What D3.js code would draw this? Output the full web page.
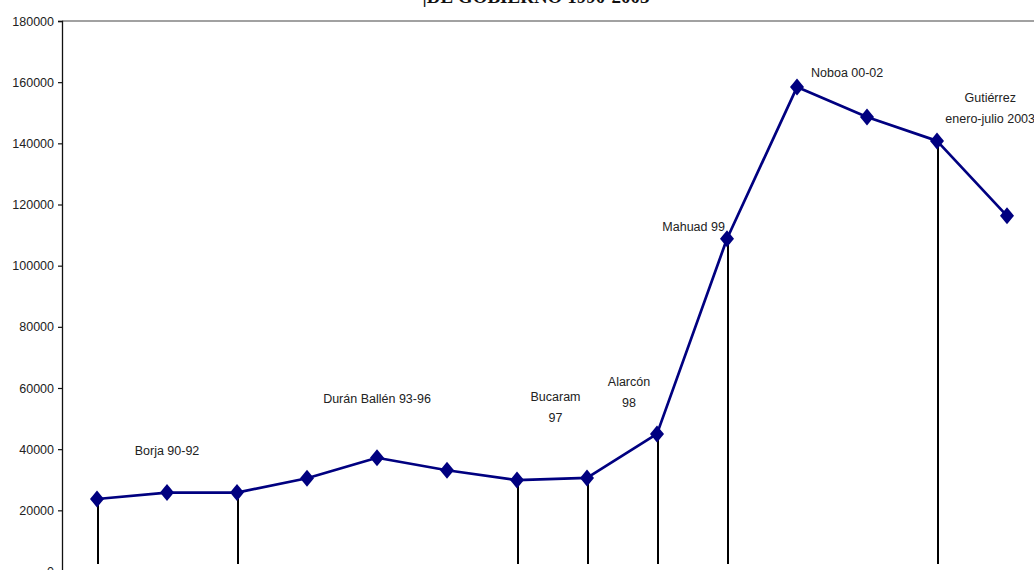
<!DOCTYPE html>
<html>
<head>
<meta charset="utf-8">
<script src="https://cdn.jsdelivr.net/npm/d3@7"></script>
<style>
  html, body { margin: 0; padding: 0; background: #fff; overflow: hidden; }
  svg { display: block; }
  .tick text { font-family: "Liberation Sans", Arial, sans-serif; font-size: 12.5px; fill: #222; }
  .lbl { font-family: "Liberation Sans", Arial, sans-serif; font-size: 12.5px; fill: #222; }
</style>
</head>
<body>
<svg id="chart" width="1034" height="570"></svg>
<script>
// yearly values 1990-2003
const years = [1990, 1991, 1992, 1993, 1994, 1995, 1996, 1997, 1998, 1999, 2000, 2001, 2002, 2003];
const values = [23700, 25800, 25800, 30500, 37200, 33100, 29900, 30600, 45000, 108800, 158400, 148600, 140800, 116300];
const yTicks = [0, 20000, 40000, 60000, 80000, 100000, 120000, 140000, 160000, 180000];
// years where a government period is separated by a vertical line
const dropYears = [1990, 1992, 1996, 1997, 1998, 1999, 2002];
const govLabels = [
    {year: 1991, value: 38000, lines: ['Borja 90-92'], anchor: 'middle'},
    {year: 1994, value: 55000, lines: ['Durán Ballén 93-96'], anchor: 'middle'},
    {year: 1996.55, value: 55700, lines: ['Bucaram', '97'], anchor: 'middle'},
    {year: 1997.6, value: 60500, lines: ['Alarcón', '98'], anchor: 'middle'},
    {year: 1998.97, value: 111400, lines: ['Mahuad 99'], anchor: 'end'},
    {year: 2000.2, value: 161700, lines: ['Noboa 00-02'], anchor: 'start'},
    {year: 2002.76, value: 153600, lines: ['Gutiérrez', 'enero-julio 2003'], anchor: 'middle'}
];

const svg = d3.select('#chart');
const x = d3.scaleLinear().domain([1990, 2003]).range([97, 1007]);
const y = d3.scaleLinear().domain([0, 180000]).range([571.5, 21]);
const axisX = 62;

// title, mostly cut off at the top of the picture
svg.append('text')
    .attr('x', 536).attr('y', 3)
    .attr('text-anchor', 'middle')
    .style('font-family', '"Liberation Serif", "Times New Roman", serif')
    .style('font-weight', 'bold')
    .style('font-size', '19px')
    .attr('fill', '#111')
    .text('|DE GOBIERNO 1990-2003');

// top frame line
svg.append('line')
    .attr('x1', axisX).attr('x2', 1034)
    .attr('y1', y(180000)).attr('y2', y(180000))
    .attr('stroke', '#444').attr('stroke-width', 1.2);

// y axis
const yAxis = svg.append('g')
    .attr('transform', `translate(${axisX},0)`)
    .call(d3.axisLeft(y).tickValues(yTicks).tickFormat(d3.format('d')).tickSize(4).tickPadding(4));
yAxis.select('.domain').attr('stroke', '#111').attr('stroke-width', 1.3);
yAxis.selectAll('.tick line').attr('stroke', '#111').attr('stroke-width', 1.2);

// vertical separators
svg.selectAll('.drop').data(dropYears).enter().append('line')
    .attr('class', 'drop')
    .attr('x1', d => x(d) + 1).attr('x2', d => x(d) + 1)
    .attr('y1', d => y(values[years.indexOf(d)]))
    .attr('y2', 564)
    .attr('stroke', '#000').attr('stroke-width', 2);

// series line
const line = d3.line().x((d, i) => x(years[i])).y(d => y(d));
svg.append('path')
    .datum(values)
    .attr('d', line)
    .attr('fill', 'none')
    .attr('stroke', '#000080')
    .attr('stroke-width', 2.7)
    .attr('stroke-linejoin', 'round');

// diamond markers
svg.selectAll('.pt').data(values).enter().append('path')
    .attr('class', 'pt')
    .attr('transform', (d, i) => `translate(${x(years[i])},${y(d)})`)
    .attr('d', 'M0,-8.5L7,0L0,8.5L-7,0Z')
    .attr('fill', '#000080');

// period labels
const lbl = svg.selectAll('.lbl').data(govLabels).enter().append('text')
    .attr('class', 'lbl')
    .attr('text-anchor', d => d.anchor)
    .attr('x', d => x(d.year))
    .attr('y', d => y(d.value));
lbl.selectAll('tspan').data(d => d.lines.map(t => ({t, x: x(d.year)}))).enter().append('tspan')
    .attr('x', d => d.x)
    .attr('dy', (d, i) => i ? 21 : 0)
    .text(d => d.t);
</script>
</body>
</html>
